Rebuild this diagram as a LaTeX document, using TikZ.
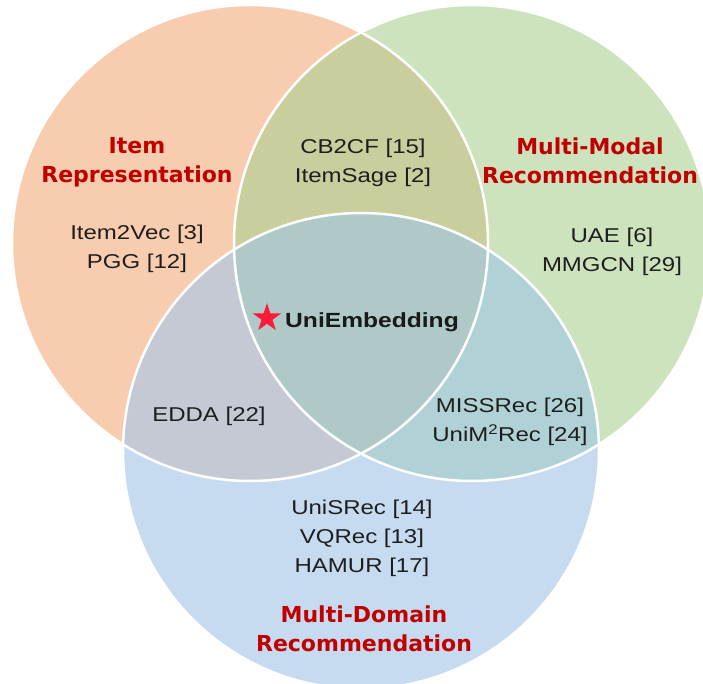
\documentclass[tikz,border=0pt]{standalone}
\usepackage{fontspec}
\setmainfont{Liberation Sans}[FakeStretch=1.2]
\newfontfamily\titlefont{DejaVu Sans}
\usepackage{tikz}
\usetikzlibrary{shapes.geometric}

\definecolor{fillitem}{HTML}{F8CCAE}
\definecolor{fillmodal}{HTML}{CCE3BD}
\definecolor{filldomain}{HTML}{C6DBEF}
\definecolor{fillitemmodal}{HTML}{C9CE9C}
\definecolor{fillitemdomain}{HTML}{C4C9D4}
\definecolor{fillmodaldomain}{HTML}{B0D2D6}
\definecolor{fillall}{HTML}{AFC9C9}
\definecolor{titlered}{HTML}{C00000}
\definecolor{entrytext}{HTML}{1E1E1E}
\definecolor{starred}{HTML}{FF1A3A}

\tikzset{%
  set border/.style={
    draw=white,
    line width=2.5pt
  },
  set title/.style={
    font=\titlefont\bfseries\fontsize{22}{29}\selectfont,
    text=titlered,
    align=center,
    inner sep=0pt
  },
  set entry/.style={
    font=\fontsize{20}{29}\selectfont,
    text=entrytext,
    align=center,
    inner sep=0pt
  },
}

\begin{document}
\begin{tikzpicture}[x=1pt, y=-1pt]

    \useasboundingbox (0,0) rectangle (703,684);

    \coordinate (item)   at (250,243);
    \coordinate (modal)  at (472,243);
    \coordinate (domain) at (361,451);

    % the three sets
    \foreach \s in {item,modal,domain}
        \fill [fill=fill\s] (\s) circle [radius=238pt];

    % pairwise overlaps
    \foreach \a/\b in {item/modal, item/domain, modal/domain}
    {
        \begin{scope}
            \clip (\a) circle [radius=238pt];
            \fill [fill=fill\a\b] (\b) circle [radius=238pt];
        \end{scope}
    }

    % centre
    \begin{scope}
        \clip (item) circle [radius=238pt];
        \clip (modal) circle [radius=238pt];
        \fill [fillall] (domain) circle [radius=238pt];
    \end{scope}

    \foreach \s in {item,modal,domain}
        \draw [set border] (\s) circle [radius=238pt];

    \foreach \n/\x/\y/\t in {item/137/162/{Item\\Representation},
                             modal/590/161/{Multi-Modal\\Recommendation},
                             domain/364/629/{Multi-Domain\\Recommendation}}
    \node [set title] (\n-title) at (\x,\y) {\t};

    \foreach \n/\x/\y/\t in {item/137/249/{Item2Vec [3]\\PGG [12]},
                             modal/612/252/{UAE [6]\\MMGCN [29]},
                             domain/362/538/{UniSRec [14]\\VQRec [13]\\HAMUR [17]},
                             itemmodal/363/163/{CB2CF [15]\\ItemSage [2]},
                             itemdomain/209/416/{EDDA [22]},
                             modaldomain/510/422/{MISSRec [26]\\UniM\textsuperscript{2}Rec [24]}}
    \node [set entry] (\n-work) at (\x,\y) {\t};

    \node [star, star points=5, star point ratio=2.6, fill=starred,
           minimum size=30pt, inner sep=0pt] (uni-star) at (267,318) {};
    \node [set entry, font=\bfseries\fontsize{20.5}{29}\selectfont, text=black!90]
        (uni) at (372,322) {UniEmbedding};

\end{tikzpicture}
\end{document}
